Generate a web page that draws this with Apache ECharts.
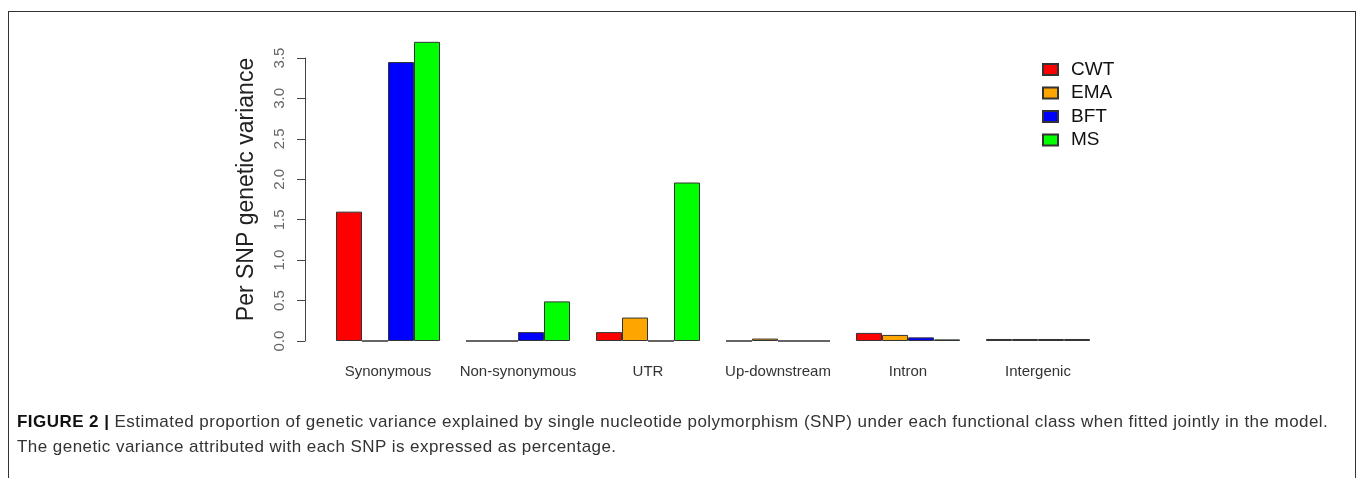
<!DOCTYPE html>
<html>
<head>
<meta charset="utf-8">
<script src="https://cdn.jsdelivr.net/npm/echarts@6/dist/echarts.min.js"></script>
<style>
html,body{margin:0;padding:0;background:#fff;}
.figure{position:absolute;left:8px;top:11px;width:1346px;height:480px;border:1px solid #333;border-bottom:none;}
#chart{position:absolute;left:0;top:0;width:1357px;height:478px;}
.caption{position:absolute;left:17px;top:409px;font-family:"Liberation Sans",Arial,sans-serif;font-size:17px;letter-spacing:0.45px;color:#333;line-height:25px;}
.caption b{color:#111;}
</style>
</head>
<body>
<div class="figure"></div>
<div id="chart"></div>
<div class="caption">
<div><b>FIGURE 2 |</b> Estimated proportion of genetic variance explained by single nucleotide polymorphism (SNP) under each functional class when fitted jointly in the model.</div>
<div>The genetic variance attributed with each SNP is expressed as percentage.</div>
</div>
<script>
// functional classes on the x axis
var categories = ['Synonymous','Non-synonymous','UTR','Up-downstream','Intron','Intergenic'];
// per SNP genetic variance
var cwt = [1.60, 0, 0.11, 0, 0.10, 0.025];
var ema = [0, 0, 0.29, 0.03, 0.075, 0.025];
var bft = [3.45, 0.11, 0, 0, 0.045, 0.025];
var ms  = [3.70, 0.49, 1.96, 0, 0.02, 0.025];
var yTicks = [0, 0.5, 1.0, 1.5, 2.0, 2.5, 3.0, 3.5];

var colors = {CWT:'#ff0000', EMA:'#ffa500', BFT:'#0000ff', MS:'#00ff00'};

function bar(name, data){
    return {
        name: name,
        type: 'bar',
        data: data,
        clip: false,
        barGap: '0%',
        barCategoryGap: '20%',
        itemStyle: {color: colors[name], borderColor: '#333', borderWidth: 1}
    };
}

var chart = echarts.init(document.getElementById('chart'));
chart.setOption({
    animation: false,
    grid: {left: 323, right: 254, top: 58, bottom: 137},
    legend: {
        orient: 'vertical',
        left: 1037,
        top: 55,
        itemWidth: 15,
        itemHeight: 11,
        itemGap: 4.5,
        icon: 'rect',
        textStyle: {fontFamily: 'Liberation Sans', fontSize: 19, color: '#111', padding: [0,0,0,8]},
        data: ['CWT','EMA','BFT','MS']
    },
    xAxis: {
        type: 'category',
        data: categories,
        axisLine: {show: false},
        axisTick: {show: false},
        axisLabel: {interval: 0, margin: 23, fontFamily: 'Liberation Sans', fontSize: 15, color: '#333'}
    },
    yAxis: {
        type: 'value',
        min: 0,
        max: 3.5,
        interval: 0.5,
        offset: 18,
        name: 'Per SNP genetic variance',
        nameLocation: 'middle',
        nameGap: 47,
        nameTextStyle: {fontFamily: 'Liberation Sans', fontSize: 23, color: '#222', padding: [0,0,0,20]},
        splitLine: {show: false},
        axisLine: {show: true, lineStyle: {color: '#444'}},
        axisTick: {show: true, length: 8, lineStyle: {color: '#444'}},
        axisLabel: {
            rotate: 90,
            margin: 18,
            fontFamily: 'Liberation Sans',
            fontSize: 15,
            color: '#666',
            customValues: yTicks,
            formatter: function(v){ return v.toFixed(1); }
        }
    },
    series: [bar('CWT', cwt), bar('EMA', ema), bar('BFT', bft), bar('MS', ms)]
});
</script>
</body>
</html>
